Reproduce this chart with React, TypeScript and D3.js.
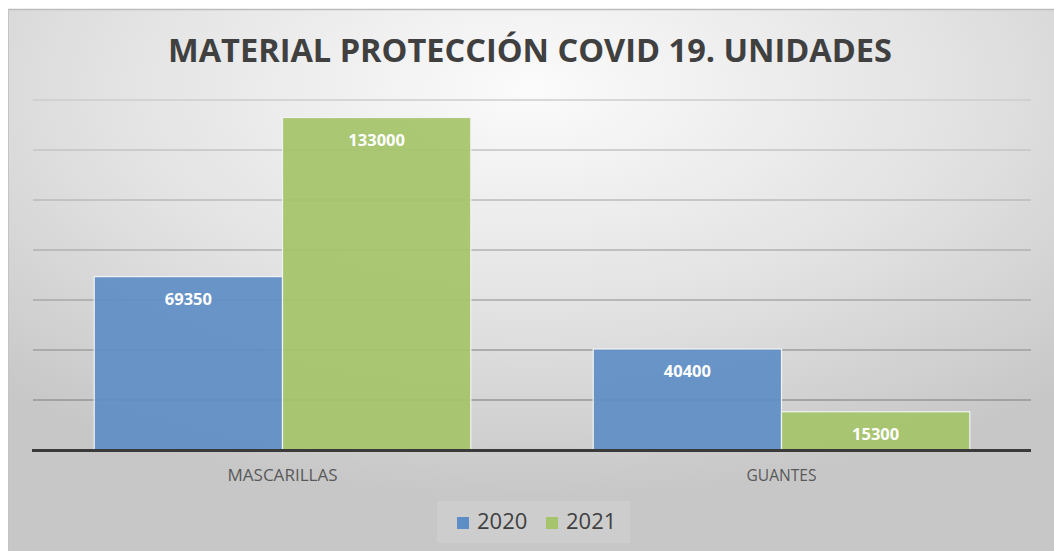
import React from "react";
import * as d3 from "d3";

const categories = ["MASCARILLAS", "GUANTES"];
const seriesNames = ["2020", "2021"];
const values2020 = [69350, 40400];
const values2021 = [133000, 15300];
const yTicks = [0, 20000, 40000, 60000, 80000, 100000, 120000, 140000];
const title = "MATERIAL PROTECCIÓN COVID 19. UNIDADES";

const colors = ["#5f8ec6", "#a5c46b"];
const W = 1054;
const H = 551;

export default function App() {
  const plotLeft = 33;
  const plotRight = 1031;
  const plotTop = 100;
  const plotBottom = 450;

  const y = d3.scaleLinear().domain([0, 140000]).range([plotBottom, plotTop]);
  const p = 0.65 / 2.65;
  const x0 = d3
    .scaleBand<string>()
    .domain(categories)
    .range([plotLeft, plotRight])
    .paddingInner(p)
    .paddingOuter(p / 2);
  const x1 = d3
    .scaleBand<string>()
    .domain(seriesNames)
    .range([0, x0.bandwidth()]);

  const series = [values2020, values2021];
  const font = "'Open Sans', 'Noto Sans', sans-serif";

  return (
    <svg
      width={W}
      height={H}
      style={{ position: "absolute", left: 0, top: 0 }}
      xmlns="http://www.w3.org/2000/svg"
    >
      <defs>
        <radialGradient id="bg" cx="50%" cy="15%" r="75%" fx="50%" fy="15%">
          <stop offset="0%" stopColor="#fbfbfb" />
          <stop offset="55%" stopColor="#e2e2e2" />
          <stop offset="100%" stopColor="#c7c7c7" />
        </radialGradient>
        <linearGradient id="grid" gradientUnits="userSpaceOnUse" x1="0" y1="100" x2="0" y2="450">
          <stop offset="0%" stopColor="#cdcdcd" />
          <stop offset="100%" stopColor="#8c8c8c" />
        </linearGradient>
      </defs>
      <rect x={0} y={0} width={W} height={H} fill="#ffffff" />
      <rect x={8} y={9} width={W - 8} height={H - 9} fill="url(#bg)" />
      <line x1={8} x2={W} y1={9.5} y2={9.5} stroke="#bdbdbd" strokeWidth={1.5} />
      <line x1={8.5} x2={8.5} y1={9} y2={H} stroke="#c4c4c4" strokeWidth={1} />

      <text
        x={530}
        y={62}
        textAnchor="middle"
        fontFamily={font}
        fontWeight={700}
        fontSize={32}
        fill="#404040"
        textLength={724}
        lengthAdjust="spacingAndGlyphs"
      >
        {title}
      </text>

      {yTicks
        .filter((t) => t > 0)
        .map((t) => (
          <line
            key={t}
            x1={plotLeft}
            x2={plotRight}
            y1={y(t)}
            y2={y(t)}
            stroke="url(#grid)"
            strokeWidth={1.5}
          />
        ))}

      {categories.map((c, ci) => (
        <g key={c} transform={`translate(${x0(c)},0)`}>
          {seriesNames.map((s, si) => {
            const v = series[si][ci];
            const bx = x1(s) as number;
            const bw = x1.bandwidth();
            return (
              <g key={s}>
                <rect
                  x={bx}
                  y={y(v)}
                  width={bw}
                  height={plotBottom - y(v)}
                  fill={colors[si]}
                  fillOpacity={0.93}
                  stroke="#f2f2f2"
                  strokeWidth={1.2}
                />
                <text
                  x={bx + bw / 2}
                  y={y(v) + 28}
                  textAnchor="middle"
                  fontFamily={font}
                  fontWeight={700}
                  fontSize={16.5}
                  fill="#ffffff"
                >
                  {v}
                </text>
              </g>
            );
          })}
        </g>
      ))}

      <line
        x1={plotLeft - 1}
        x2={plotRight}
        y1={plotBottom + 0.5}
        y2={plotBottom + 0.5}
        stroke="#3a3a3a"
        strokeWidth={3}
      />

      {categories.map((c) => (
        <text
          key={c}
          x={(x0(c) as number) + x0.bandwidth() / 2}
          y={481}
          textAnchor="middle"
          fontFamily={font}
          fontSize={16}
          fill="#595959"
          textLength={c.length * 10}
          lengthAdjust="spacingAndGlyphs"
        >
          {c}
        </text>
      ))}

      <rect x={437} y={501} width={193} height={42} fill="#ffffff" fillOpacity={0.12} />
      {seriesNames.map((s, i) => {
        const lx = 457 + i * 89;
        return (
          <g key={s}>
            <rect x={lx} y={517} width={12} height={12} fill={colors[i]} />
            <text
              x={lx + 20}
              y={529}
              fontFamily={font}
              fontSize={22}
              fill="#404040"
            >
              {s}
            </text>
          </g>
        );
      })}
    </svg>
  );
}
